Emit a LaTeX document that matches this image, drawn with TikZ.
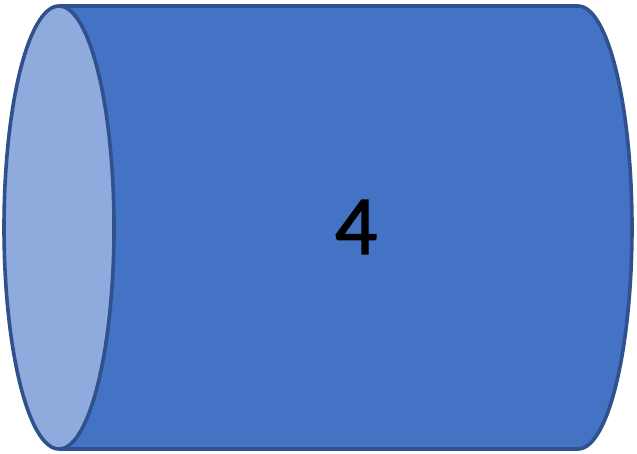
\documentclass[tikz,border=0pt]{standalone}
\usepackage{fontspec}
\setmainfont{Carlito}
\newfontfamily\numfont[FakeBold=1.5]{Carlito}
\definecolor{bodyblue}{HTML}{4472C4}
\definecolor{faceblue}{HTML}{8FAADC}
\definecolor{edgeblue}{HTML}{2F528F}

\begin{document}
\begin{tikzpicture}[x=1pt,y=1pt,
  rim/.style={line width=3.6pt, draw=edgeblue, line join=round}]
\useasboundingbox (0,0) rectangle (637,453);

% body of the cylinder
\filldraw[rim, fill=bodyblue] (59,447) -- (578,447)
  arc[start angle=90, end angle=-90, x radius=54, y radius=221.5]
  -- (59,4) -- cycle;

% front face
\filldraw[rim, fill=faceblue] (59,225.5) ellipse[x radius=55, y radius=221.5];

\node[font=\numfont\fontsize{84}{84}\selectfont, inner sep=0pt] (label) at (356,226) {4};

\end{tikzpicture}
\end{document}
